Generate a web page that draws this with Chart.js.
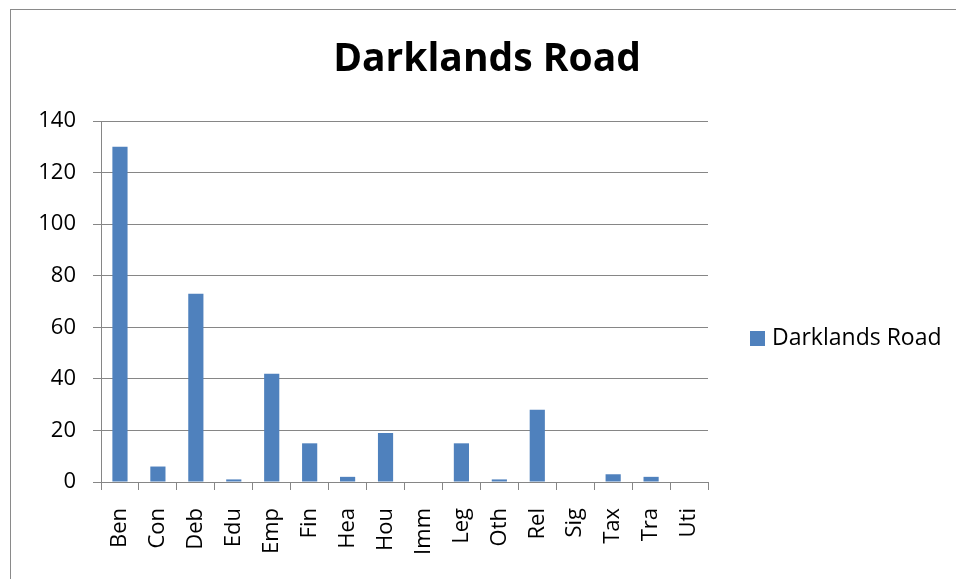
<!DOCTYPE html>
<html>
<head>
<meta charset="utf-8">
<script src="https://cdn.jsdelivr.net/npm/chart.js@4"></script>
<style>
  html, body { margin: 0; padding: 0; background: #fff; overflow: hidden; }
  #wrap { position: relative; width: 956px; height: 579px; }
  #frame { position: absolute; left: 10px; top: 9px; width: 1000px; height: 1000px; border: 1px solid #8a8a8a; }
  canvas { position: absolute; left: 0; top: 0; }
</style>
</head>
<body>
<div id="wrap">
  <div id="frame"></div>
  <canvas id="myChart" width="956" height="579"></canvas>
</div>
<script>
const chartTitle = 'Darklands Road';
const categories = ['Ben', 'Con', 'Deb', 'Edu', 'Emp', 'Fin', 'Hea', 'Hou', 'Imm', 'Leg', 'Oth', 'Rel', 'Sig', 'Tax', 'Tra', 'Uti'];
const values = [130, 6, 73, 1, 42, 15, 2, 19, 0, 15, 1, 28, 0, 3, 2, 0];
const yTicks = [0, 20, 40, 60, 80, 100, 120, 140];

const font = "'Open Sans', sans-serif";
const gray = '#868686';
const blue = '#4F81BD';

// title + legend drawn by hand so they sit where the original has them
const titleLegend = {
    id: 'titleLegend',
    afterDraw(chart) {
        const c = chart.ctx;
        c.save();
        c.fillStyle = '#000';
        c.font = 'bold 39px ' + font;
        c.textAlign = 'center';
        c.textBaseline = 'middle';
        c.fillText(chartTitle, 487, 60);

        const ds = chart.data.datasets[0];
        c.fillStyle = ds.backgroundColor;
        c.fillRect(750, 331, 15, 15);
        c.fillStyle = '#000';
        c.font = '23px ' + font;
        c.textAlign = 'left';
        c.fillText(ds.label, 772, 338);
        c.restore();
    }
};

new Chart(document.getElementById('myChart'), {
    type: 'bar',
    data: {
        labels: categories,
        datasets: [{
            label: chartTitle,
            data: values,
            backgroundColor: blue,
            barPercentage: 0.4,
            categoryPercentage: 1
        }]
    },
    options: {
        responsive: false,
        animation: false,
        layout: { padding: { left: 0, top: 121, right: 248, bottom: 0 } },
        plugins: {
            legend: { display: false },
            title: { display: false },
            tooltip: { enabled: false }
        },
        scales: {
            x: {
                afterFit: s => { s.height = 97; },
                grid: { drawOnChartArea: false, drawTicks: true, tickLength: 8, color: gray, offset: true },
                border: { color: gray },
                ticks: {
                    minRotation: 90, maxRotation: 90, autoSkip: false,
                    padding: 18, color: '#000',
                    font: { family: font, size: 22 }
                }
            },
            y: {
                min: 0, max: 140,
                afterFit: s => { s.width = 101; },
                afterBuildTicks: s => { s.ticks = yTicks.map(v => ({ value: v })); },
                grid: { color: gray, tickLength: 8 },
                border: { color: gray },
                ticks: {
                    padding: 17, color: '#000',
                    font: { family: font, size: 22 }
                }
            }
        }
    },
    plugins: [titleLegend]
});
</script>
</body>
</html>
